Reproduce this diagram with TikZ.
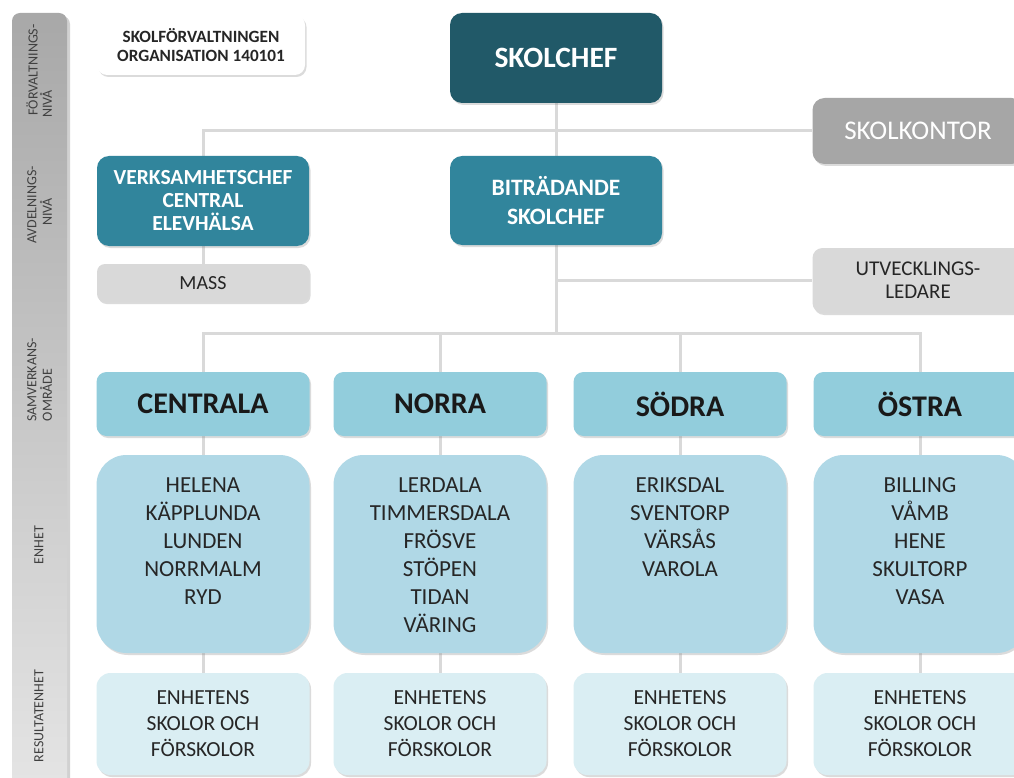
\documentclass[tikz,border=0pt]{standalone}
\usepackage{fontspec}
\setmainfont{Carlito}
\usetikzlibrary{shadows}
\definecolor{dteal}{HTML}{215968}
\definecolor{mteal}{HTML}{31859C}
\definecolor{lteal}{HTML}{92CDDC}
\definecolor{uteal}{HTML}{B0D8E6}
\definecolor{rteal}{HTML}{DAEEF3}
\definecolor{mgray}{HTML}{A6A6A6}
\definecolor{lgray}{HTML}{D9D9D9}
\definecolor{linegray}{HTML}{D9D9D9}
\definecolor{txt}{HTML}{262626}
\definecolor{sbtxt}{HTML}{404040}
\definecolor{sbtop}{HTML}{A8A8A8}
\definecolor{sbbot}{HTML}{E4E4E4}
\pgfdeclarelayer{bg}
\pgfsetlayers{bg,main}
\begin{document}
\begin{tikzpicture}[x=1pt,y=-1pt,
  box/.style={rounded corners=#1, inner sep=0pt, align=center,
    drop shadow={shadow xshift=1.5pt, shadow yshift=-2pt, opacity=0.28}},
  colw/.style={minimum width=213, text=txt},
  hdr/.style={box=10pt, colw, fill=lteal, minimum height=64, text=black!90,
    font=\fontsize{30}{34}\selectfont\bfseries},
  unitbox/.style={box=30pt, colw, fill=uteal, minimum height=198},
  unittxt/.style={inner sep=0pt, align=center, text=txt, font=\fontsize{23}{28}\selectfont},
  resbox/.style={box=14pt, colw, fill=rteal, minimum height=102,
    font=\fontsize{21.5}{26}\selectfont},
  sbtext/.style={rotate=90, inner sep=0pt, text=sbtxt, font=\fontsize{14}{15}\selectfont},
  conn/.style={draw=linegray, line width=3pt}
]
\useasboundingbox (0,0) rectangle (1014,778);

% side bar
\fill[black, opacity=0.18] (15,781) [rounded corners=8pt] -- (15,16) -- (70,16) [sharp corners] -- (70,781) -- cycle;
\shade[top color=sbtop, bottom color=sbbot] (12,781) [rounded corners=8pt] -- (12,13) -- (67,13) [sharp corners] -- (67,781) -- cycle;

\node[sbtext] (sbA1) at (32,70) {FÖRVALTNINGS-};
\node[sbtext] (sbA2) at (46,104) {NIVÅ};
\node[sbtext] (sbB1) at (32,205) {AVDELNINGS-};
\node[sbtext] (sbB2) at (46,212) {NIVÅ};
\node[sbtext] (sbC1) at (32,380) {SAMVERKANS-};
\node[sbtext] (sbC2) at (46,395) {OMRÅDE};
\node[sbtext] (sbD) at (39,545) {ENHET};
\node[sbtext] (sbE) at (39,716) {RESULTATENHET};

% top level
\node[box=10pt, fill=white, minimum width=208, minimum height=60, text=txt,
  font=\fontsize{17.2}{19}\selectfont\bfseries] (title) at (201,45)
  {SKOLFÖRVALTNINGEN\\ORGANISATION 140101};
\node[box=12pt, fill=dteal, minimum width=212, minimum height=90, text=white,
  font=\fontsize{29.5}{34}\selectfont\bfseries] (skolchef) at (556,58) {SKOLCHEF};
\node[box=12pt, fill=mgray, minimum width=211, minimum height=66, text=white,
  font=\fontsize{27}{30}\selectfont] (skolkontor) at (918,131) {SKOLKONTOR};

\node[box=12pt, fill=mteal, minimum width=212, minimum height=90, text=white,
  font=\fontsize{21.5}{23}\selectfont\bfseries] (verksam) at (203,201)
  {VERKSAMHETSCHEF\\CENTRAL\\ELEVHÄLSA};
\node[box=8pt, fill=lgray, minimum width=212, minimum height=38, text=txt,
  font=\fontsize{20}{22}\selectfont] (mass) at (203,283) {MASS};
\node[box=12pt, fill=mteal, minimum width=212, minimum height=89, text=white,
  font=\fontsize{23.5}{28.5}\selectfont\bfseries] (bitr) at (556,200.5)
  {BITRÄDANDE\\SKOLCHEF};
\node[box=10pt, fill=lgray, minimum width=211, minimum height=65, text=txt,
  font=\fontsize{21}{23}\selectfont] (utv) at (918,280.5)
  {UTVECKLINGS-\\LEDARE};

% columns
\node[hdr] (hC) at (203,404) {CENTRALA};
\node[hdr] (hN) at (440,404) {NORRA};
\node[hdr] (hS) at (680,404) {SÖDRA};
\node[hdr] (hO) at (920,404) {ÖSTRA};

\node[unitbox] (uC) at (203,554) {};
\node[unitbox] (uN) at (440,554) {};
\node[unitbox] (uS) at (680,554) {};
\node[unitbox] (uO) at (920,554) {};

\node[unittxt] (tC) at (203,541) {HELENA\\KÄPPLUNDA\\LUNDEN\\NORRMALM\\RYD};
\node[unittxt] (tN) at (440,555) {LERDALA\\TIMMERSDALA\\FRÖSVE\\STÖPEN\\TIDAN\\VÄRING};
\node[unittxt] (tS) at (680,527) {ERIKSDAL\\SVENTORP\\VÄRSÅS\\VAROLA};
\node[unittxt] (tO) at (920,541) {BILLING\\VÅMB\\HENE\\SKULTORP\\VASA};

\node[resbox] (rC) at (203,724) {ENHETENS\\SKOLOR OCH\\FÖRSKOLOR};
\node[resbox] (rN) at (440,724) {ENHETENS\\SKOLOR OCH\\FÖRSKOLOR};
\node[resbox] (rS) at (680,724) {ENHETENS\\SKOLOR OCH\\FÖRSKOLOR};
\node[resbox] (rO) at (920,724) {ENHETENS\\SKOLOR OCH\\FÖRSKOLOR};

\coordinate (bus) at (556,333);

\begin{pgfonlayer}{bg}
\fill[white] (0,0) rectangle (1014,778);
\draw[conn] (skolchef.south) -- (bitr.north);
\draw[conn] (verksam.north) |- (skolkontor.west);
\draw[conn] (verksam.south) -- (mass.north);
\draw[conn] (bitr.south) -- (bus);
\draw[conn] (bitr.south |- utv.west) -- (utv.west);
\draw[conn] (hC.north) |- (bus) -| (hO.north);
\draw[conn] (hN.north) -- (hN.north |- bus);
\draw[conn] (hS.north) -- (hS.north |- bus);
\foreach \c in {C,N,S,O}{
  \draw[conn] (h\c.south) -- (u\c.north);
  \draw[conn] (u\c.south) -- (r\c.north);
}
\end{pgfonlayer}
\end{tikzpicture}
\end{document}
